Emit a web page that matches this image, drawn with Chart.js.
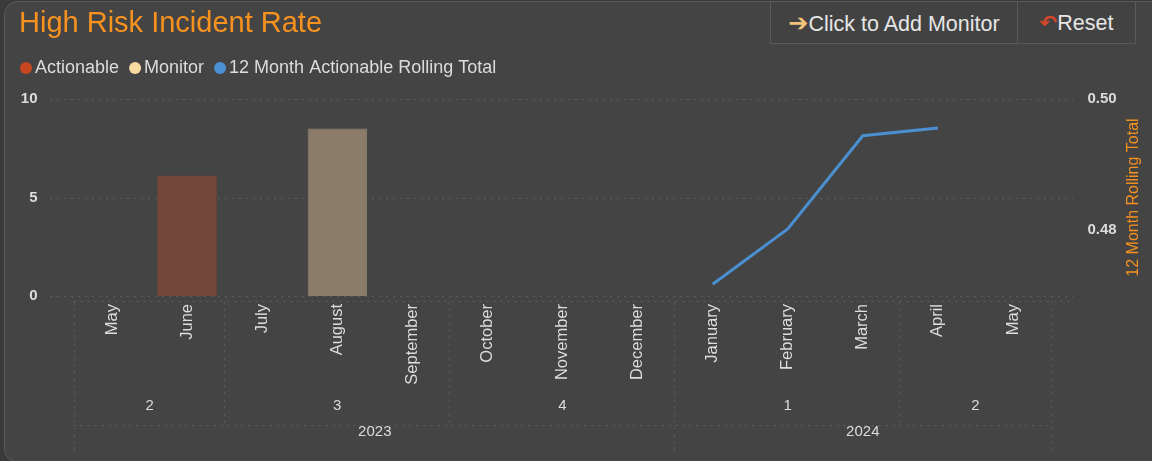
<!DOCTYPE html>
<html>
<head>
<meta charset="utf-8">
<script src="https://cdn.jsdelivr.net/npm/chart.js@4.4.1/dist/chart.umd.min.js"></script>
<style>
  html, body { margin: 0; padding: 0; background: #3a3a3a; overflow: hidden; }
  #wrap { position: relative; width: 1152px; height: 461px; }
  #card {
    position: absolute; left: 4px; top: 1px; width: 1160px; height: 460px;
    background: #444444; border: 1px solid #5c5c5c; border-radius: 14px;
  }
  #chart-1 { position: absolute; left: 0; top: 0; }
  .btn {
    position: absolute; top: 1px; height: 43px; line-height: 43px;
    border: 1px solid #5a5a5a; background: #424242; color: #e6e6e6;
    font-family: "Liberation Sans", Arial, sans-serif; font-size: 21.5px;
    text-align: center; box-sizing: border-box;
  }
  #btn-add { left: 770px; width: 248px; }
  #btn-reset { left: 1017px; width: 119px; }
  .ico-add { color: #f3c37c; font-family: "DejaVu Sans"; font-size: 24px; }
  .ico-reset { color: #d2462a; font-family: "DejaVu Sans"; font-size: 21px; font-weight: bold; }
</style>
</head>
<body>
<div id="wrap">
  <div id="card"></div>
  <canvas id="chart-1" width="1152" height="461"></canvas>
  <div class="btn" id="btn-add"><span class="ico-add">&#x2794;</span>Click to Add Monitor</div>
  <div class="btn" id="btn-reset"><span class="ico-reset">&#x21B6;</span>Reset</div>
</div>
<script>
var months = ['May', 'June', 'July', 'August', 'September', 'October', 'November', 'December', 'January', 'February', 'March', 'April', 'May'];
var quarters = ['2', '2', '3', '3', '3', '4', '4', '4', '1', '1', '1', '2', '2'];
var years = ['2023', '2023', '2023', '2023', '2023', '2023', '2023', '2023', '2024', '2024', '2024', '2024', '2024'];

var actionable = [null, 6.1, null, null, null, null, null, null, null, null, null, null, null];
var monitor = [null, null, null, 8.5, null, null, null, null, null, null, null, null, null];
var rolling = [null, null, null, null, null, null, null, null, 0.4718, 0.4802, 0.4944, 0.4956, null];

var leftTicks = [0, 5, 10];
var rightTicks = [0.48, 0.50];

var textColor = '#dcdcdc';
var orange = '#f7921e';
var fontName = '"Liberation Sans", Arial, sans-serif';

// groups consecutive equal labels: [{label, from, to}]
function runs(arr) {
    var out = [];
    for (let i = 0; i < arr.length; i++) {
        if (out.length && out[out.length - 1].label === arr[i]) {
            out[out.length - 1].to = i;
        } else {
            out.push({ label: arr[i], from: i, to: i });
        }
    }
    return out;
}

function dotted(ctx, x1, y1, x2, y2) {
    ctx.beginPath();
    ctx.moveTo(x1, y1);
    ctx.lineTo(x2, y2);
    ctx.stroke();
}

var decor = {
    id: 'decor',
    beforeDatasetsDraw: function(chart) {
        const ctx = chart.ctx;
        const y = chart.scales.y;
        ctx.save();
        ctx.strokeStyle = '#5e5e5e';
        ctx.lineWidth = 1;
        ctx.setLineDash([2, 5]);
        leftTicks.forEach(function(v) {
            const py = Math.round(y.getPixelForValue(v)) + 0.5;
            dotted(ctx, 50, py, 1073, py);
        });
        ctx.restore();
    },
    afterDraw: function(chart) {
        const ctx = chart.ctx;
        const x = chart.scales.x;
        const area = chart.chartArea;
        const w = x.width / months.length;
        ctx.save();

        // title
        ctx.fillStyle = orange;
        ctx.font = '29px ' + fontName;
        ctx.textBaseline = 'middle';
        ctx.textAlign = 'left';
        ctx.fillText('High Risk Incident Rate', 19, 24);

        // legend
        ctx.font = '18px ' + fontName;
        let lx = 20;
        chart.data.datasets.forEach(function(ds) {
            ctx.fillStyle = ds.legendColor;
            ctx.beginPath();
            ctx.arc(lx + 6, 68, 6, 0, Math.PI * 2);
            ctx.fill();
            ctx.fillStyle = textColor;
            ctx.fillText(ds.label, lx + 15, 68);
            lx += 15 + ctx.measureText(ds.label).width + 10;
        });

        // x axis hierarchy
        ctx.strokeStyle = '#5e5e5e';
        ctx.lineWidth = 1;
        ctx.setLineDash([2, 5]);
        const top = 301.5, mid = 425.5, bot = 455;
        dotted(ctx, area.left - 1, top, 1073, top);
        dotted(ctx, area.left - 1, mid, area.right, mid);

        const qRuns = runs(quarters.map(function(q, i) { return years[i] + '-' + q; }));
        const yRuns = runs(years);
        const yearStarts = yRuns.map(function(r) { return r.from; });
        qRuns.forEach(function(r) {
            const lx0 = Math.round(x.getPixelForValue(r.from) - w / 2) - 0.5;
            dotted(ctx, lx0, top, lx0, yearStarts.indexOf(r.from) >= 0 ? bot : mid);
        });
        const rx = Math.round(area.right) + 0.5;
        dotted(ctx, rx, top, rx, bot);

        ctx.setLineDash([]);
        ctx.fillStyle = textColor;
        ctx.font = '15px ' + fontName;
        ctx.textAlign = 'center';
        qRuns.forEach(function(r) {
            const cx = (x.getPixelForValue(r.from) + x.getPixelForValue(r.to)) / 2;
            ctx.fillText(r.label.split('-')[1], cx, 406);
        });
        yRuns.forEach(function(r) {
            const cx = (x.getPixelForValue(r.from) + x.getPixelForValue(r.to)) / 2;
            ctx.fillText(r.label, cx, 432);
        });

        // right axis title
        ctx.fillStyle = orange;
        ctx.font = '16px ' + fontName;
        ctx.translate(1134, (area.top + area.bottom) / 2);
        ctx.rotate(-Math.PI / 2);
        ctx.fillText('12 Month Rolling Total', 0, 0);
        ctx.restore();
    }
};

const ctx = document.getElementById('chart-1').getContext('2d');
const myChart = new Chart(ctx, {
    type: 'bar',
    data: {
        labels: months,
        datasets: [{
            label: 'Actionable',
            data: actionable,
            backgroundColor: '#73463a',
            legendColor: '#c8461f',
            borderWidth: 0,
            categoryPercentage: 1,
            barPercentage: 0.79,
            order: 2,
        }, {
            label: 'Monitor',
            data: monitor,
            backgroundColor: '#8b7d69',
            borderColor: '#938571',
            borderWidth: 1,
            legendColor: '#f8dba1',
            categoryPercentage: 1,
            barPercentage: 0.79,
            order: 2,
        }, {
            type: 'line',
            label: '12 Month Actionable Rolling Total',
            data: rolling,
            yAxisID: 'y1',
            borderColor: '#4a8fd0',
            backgroundColor: '#4a8fd0',
            legendColor: '#4a90d4',
            borderWidth: 3,
            pointRadius: 0,
            tension: 0,
            order: 1,
        }],
    },
    options: {
        responsive: false,
        animation: false,
        devicePixelRatio: 1,
        layout: {
            padding: { top: 99, left: 0, right: 0, bottom: 0 },
        },
        plugins: {
            legend: { display: false },
            title: { display: false },
            tooltip: { enabled: false },
        },
        scales: {
            x: {
                stacked: true,
                grid: { display: false, drawTicks: false },
                border: { display: false },
                ticks: {
                    color: textColor,
                    font: { family: fontName, size: 16.5 },
                    minRotation: 90,
                    maxRotation: 90,
                    autoSkip: false,
                    padding: 8,
                },
                afterFit: function(scale) { scale.height = 165; },
            },
            y: {
                stacked: true,
                min: 0,
                max: 10,
                grid: { display: false, drawTicks: false },
                border: { display: false },
                afterBuildTicks: function(scale) {
                    scale.ticks = leftTicks.map(function(v) { return { value: v }; });
                },
                ticks: {
                    color: textColor,
                    font: { family: fontName, size: 15, weight: 'bold' },
                    padding: 37,
                },
                afterFit: function(scale) { scale.width = 74.5; },
            },
            y1: {
                position: 'right',
                min: 0.47,
                max: 0.50,
                grid: { display: false, drawTicks: false },
                border: { display: false },
                afterBuildTicks: function(scale) {
                    scale.ticks = rightTicks.map(function(v) { return { value: v }; });
                },
                ticks: {
                    color: textColor,
                    font: { family: fontName, size: 15, weight: 'bold' },
                    padding: 37,
                    callback: function(v) { return Number(v).toFixed(2); },
                },
                afterFit: function(scale) { scale.width = 101.5; },
            },
        },
    },
    plugins: [decor],
});
</script>
</body>
</html>
